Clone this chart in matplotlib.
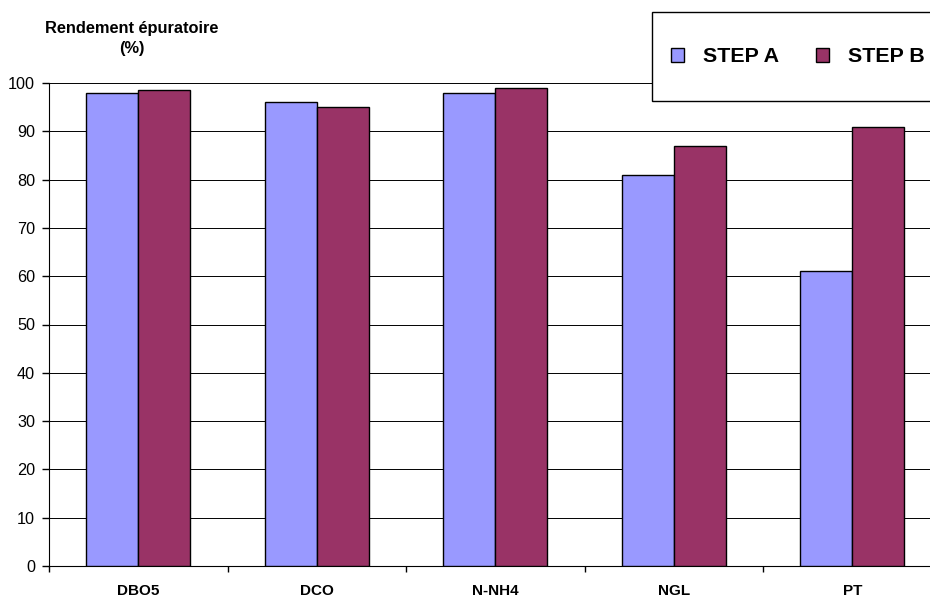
import matplotlib
matplotlib.use("Agg")
import matplotlib.pyplot as plt
from matplotlib.patches import Patch, Rectangle
import numpy as np

plt.rcParams['font.family'] = ['Liberation Sans', 'DejaVu Sans']

# Data
categories = ["DBO5", "DCO", "N-NH4", "NGL", "PT"]
step_a = [98.0, 96.0, 98.0, 81.0, 61.0]
step_b = [98.6, 95.0, 99.0, 86.9, 90.8]
series_names = ["STEP A", "STEP B"]
y_ticks = list(range(0, 101, 10))

color_a = "#9999FF"
color_b = "#993366"

fig = plt.figure(figsize=(9.3, 5.98), dpi=100)
W, H = 930, 598
# axes extends slightly past the right edge, like the original screenshot
ax = fig.add_axes([49 / W, (H - 566) / H, 892.5 / W, 483 / H])

x = np.arange(len(categories))
bw = 0.29
ax.bar(x - bw / 2, step_a, bw, color=color_a, edgecolor="black", linewidth=1.0, zorder=3)
ax.bar(x + bw / 2, step_b, bw, color=color_b, edgecolor="black", linewidth=1.0, zorder=3)

ax.set_xlim(-0.5, len(categories) - 0.5)
ax.set_ylim(0, 100)
ax.set_yticks(y_ticks)
ax.yaxis.grid(True, color="black", linewidth=0.7, zorder=0)
ax.set_axisbelow(True)

for s in ["top", "right"]:
    ax.spines[s].set_visible(False)
ax.spines["left"].set_color("black")
ax.spines["bottom"].set_color("black")

ax.set_xticks(x)
ax.set_xticklabels(categories, fontsize=11, fontweight="bold")
ax.set_xticks(np.arange(len(categories) + 1) - 0.5, minor=True)
ax.tick_params(axis="x", which="major", length=0, pad=13)
ax.tick_params(axis="x", which="minor", length=4, width=1, direction="out")
ax.tick_params(axis="y", length=5, width=1, labelsize=11.7, pad=5)

fig.text(132 / W, 1 - 29 / H, "Rendement épuratoire", ha="center", va="center",
         fontsize=11.8, fontweight="bold")
fig.text(132 / W, 1 - 48 / H, "(%)", ha="center", va="center",
         fontsize=11.8, fontweight="bold")

# legend box
fig.patches.append(Rectangle((652 / W, 1 - 101 / H), 300 / W, 89 / H,
                             transform=fig.transFigure, facecolor="white",
                             edgecolor="black", linewidth=1.0, zorder=5))
handles = [Patch(facecolor=color_a, edgecolor="black", linewidth=1.0),
           Patch(facecolor=color_b, edgecolor="black", linewidth=1.0)]
leg = fig.legend(handles, series_names, loc="center left",
                 bbox_to_anchor=(670.7 / W, 1 - 57 / H), ncol=2, frameon=False,
                 prop={"size": 15.4, "weight": "bold"},
                 handlelength=0.61, handleheight=0.61, handletextpad=0.9,
                 columnspacing=1.73, borderpad=0, borderaxespad=0)
leg.set_zorder(6)

fig.savefig("out.png", dpi=100)
